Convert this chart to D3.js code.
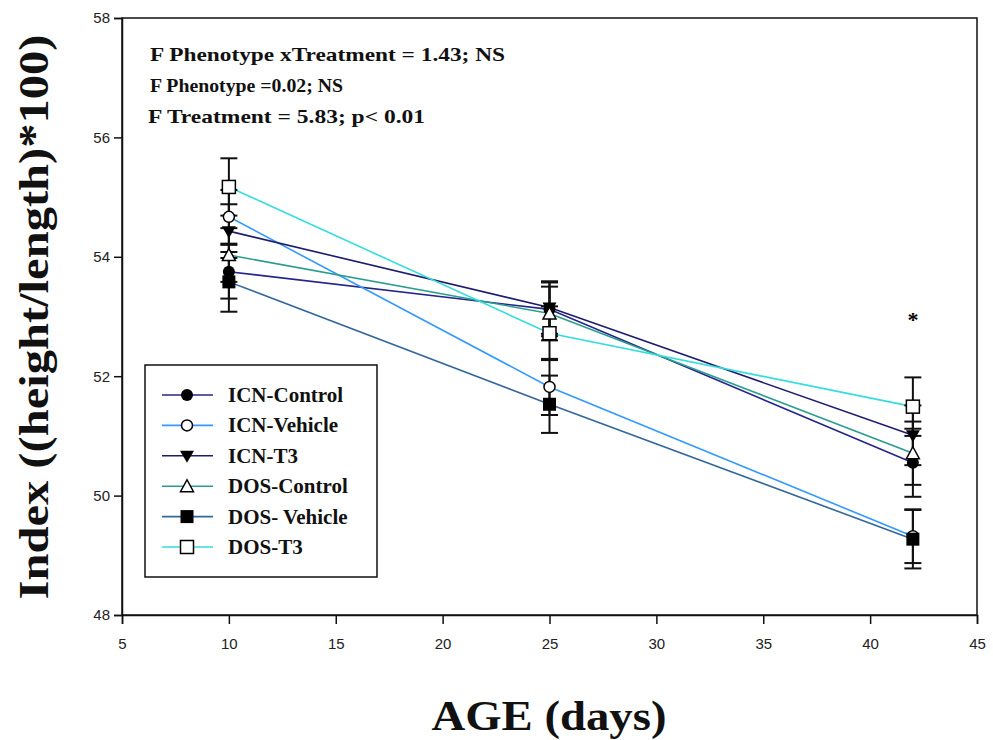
<!DOCTYPE html>
<html><head><meta charset="utf-8">
<script src="https://cdn.jsdelivr.net/npm/d3@7"></script>
<style>body{margin:0;background:#fff}svg{display:block}</style>
</head><body><svg id="c" width="993" height="740"></svg>
<script>
const ages = [10, 25, 42];
const seriesNames = ["ICN-Control","ICN-Vehicle","ICN-T3","DOS-Control","DOS- Vehicle","DOS-T3"];
const icnControl = [53.75, 53.12, 50.55];
const icnVehicle = [54.67, 51.82, 49.32];
const icnT3 = [54.43, 53.15, 51.01];
const dosControl = [54.03, 53.05, 50.71];
const dosVehicle = [53.58, 51.53, 49.27];
const dosT3 = [55.17, 52.72, 51.49];
const icnControlSE = [0.45, 0.45, 0.57];
const icnVehicleSE = [0.45, 0.47, 0.45];
const icnT3SE = [0.45, 0.44, 0.5];
const dosControlSE = [0.45, 0.45, 0.53];
const dosVehicleSE = [0.5, 0.48, 0.49];
const dosT3SE = [0.48, 0.45, 0.49];
const xTicks = [5,10,15,20,25,30,35,40,45];
const yTicks = [48,50,52,54,56,58];
const statLines = ["F Phenotype xTreatment = 1.43; NS","F Phenotype =0.02; NS","F Treatment = 5.83; p< 0.01"];

const colors = ["#24248a","#3399ff","#1c1c6e","#2a9d8f","#33679c","#33dddd"];
const symbols = ["circleFill","circleOpen","triDown","triUpOpen","squareFill","squareOpen"];
const values = [icnControl, icnVehicle, icnT3, dosControl, dosVehicle, dosT3];
const ses = [icnControlSE, icnVehicleSE, icnT3SE, dosControlSE, dosVehicleSE, dosT3SE];
const series = seriesNames.map((n,i)=>({name:n,color:colors[i],sym:symbols[i],
  pts: ages.map((a,j)=>({x:a,y:values[i][j],se:ses[i][j]}))}));

const svg = d3.select("#c");
const L=122,R=977,T=18,B=615;
const x = d3.scaleLinear().domain([5,45]).range([L,R]);
const y = d3.scaleLinear().domain([48,58]).range([B,T]);

svg.append("rect").attr("x",L).attr("y",T).attr("width",R-L).attr("height",B-T)
  .attr("fill","none").attr("stroke","#111").attr("stroke-width",1.5);

const gx = svg.append("g").attr("transform",`translate(0,${B})`)
  .call(d3.axisBottom(x).tickValues(xTicks).tickSize(9).tickPadding(14).tickFormat(d3.format("d")));
const gy = svg.append("g").attr("transform",`translate(${L},0)`)
  .call(d3.axisLeft(y).tickValues(yTicks).tickSize(8).tickPadding(4).tickFormat(d3.format("d")));
[gx,gy].forEach(g=>{
  g.select(".domain").attr("stroke","#111").attr("stroke-width",1.5);
  g.selectAll(".tick line").attr("stroke","#111").attr("stroke-width",1.5);
  g.selectAll("text").attr("font-family","Liberation Sans, Arial, sans-serif").attr("font-size",15).attr("fill","#222");
});

const line = d3.line().x(d=>x(d.x)).y(d=>y(d.y));
svg.append("g").selectAll("path").data(series).join("path")
  .attr("d",d=>line(d.pts)).attr("fill","none").attr("stroke",d=>d.color).attr("stroke-width",1.6);

const eb = svg.append("g").attr("stroke","#111").attr("stroke-width",2);
series.forEach(s=>s.pts.forEach(p=>{
  eb.append("line").attr("x1",x(p.x)).attr("x2",x(p.x)).attr("y1",y(p.y+p.se)).attr("y2",y(p.y-p.se));
  [p.y+p.se,p.y-p.se].forEach(v=>eb.append("line").attr("x1",x(p.x)-8.5).attr("x2",x(p.x)+8.5).attr("y1",y(v)).attr("y2",y(v)));
}));

function drawMarker(g,sym,cx,cy){
  const sw=1.5;
  if(sym==="circleFill") g.append("circle").attr("cx",cx).attr("cy",cy).attr("r",6).attr("fill","#000");
  if(sym==="circleOpen") g.append("circle").attr("cx",cx).attr("cy",cy).attr("r",5.5).attr("fill","#fff").attr("stroke","#000").attr("stroke-width",sw);
  if(sym==="triDown") g.append("path").attr("d",`M${cx-7},${cy-5}L${cx+7},${cy-5}L${cx},${cy+7}Z`).attr("fill","#000");
  if(sym==="triUpOpen") g.append("path").attr("d",`M${cx-6.5},${cy+5.5}L${cx+6.5},${cy+5.5}L${cx},${cy-6.5}Z`).attr("fill","#fff").attr("stroke","#000").attr("stroke-width",sw);
  if(sym==="squareFill") g.append("rect").attr("x",cx-6.5).attr("y",cy-6.5).attr("width",13).attr("height",13).attr("fill","#000");
  if(sym==="squareOpen") g.append("rect").attr("x",cx-6.5).attr("y",cy-6.5).attr("width",13).attr("height",13).attr("fill","#fff").attr("stroke","#000").attr("stroke-width",sw);
}
const mg = svg.append("g");
series.forEach(s=>s.pts.forEach(p=>drawMarker(mg,s.sym,x(p.x),y(p.y))));

svg.append("text").attr("x",x(42)).attr("y",y(51.98)-50).attr("text-anchor","middle")
  .attr("font-family","Liberation Serif, serif").attr("font-size",22).attr("font-weight","bold").text("*");

const statW = [355,193,277];
svg.append("g").selectAll("text").data(statLines).join("text")
  .attr("x",(d,i)=>i===2?148:150).attr("y",(d,i)=>61+i*31)
  .attr("font-family","Liberation Serif, serif").attr("font-weight","bold").attr("font-size",19)
  .attr("textLength",(d,i)=>statW[i]).attr("lengthAdjust","spacingAndGlyphs")
  .attr("fill","#111").text(d=>d);

const lg = svg.append("g");
lg.append("rect").attr("x",145).attr("y",365).attr("width",232).attr("height",212)
  .attr("fill","#fff").attr("stroke","#111").attr("stroke-width",1.5);
series.forEach((s,i)=>{
  const cy = 395 + i*30.4;
  lg.append("line").attr("x1",162).attr("x2",213).attr("y1",cy).attr("y2",cy).attr("stroke",s.color).attr("stroke-width",1.6);
  drawMarker(lg,s.sym,187,cy);
  lg.append("text").attr("x",228).attr("y",cy+7).attr("font-family","Liberation Serif, serif")
    .attr("font-weight","bold").attr("font-size",21).attr("fill","#111").text(s.name);
});

svg.append("text").attr("x",549).attr("y",730).attr("text-anchor","middle")
  .attr("font-family","Liberation Serif, serif").attr("font-weight","bold").attr("font-size",42)
  .attr("textLength",235).attr("lengthAdjust","spacingAndGlyphs")
  .attr("fill","#111").text("AGE (days)");
svg.append("text").attr("transform",`translate(48,317) rotate(-90)`).attr("text-anchor","middle")
  .attr("font-family","Liberation Serif, serif").attr("font-weight","bold").attr("font-size",42)
  .attr("textLength",565).attr("lengthAdjust","spacingAndGlyphs")
  .attr("fill","#111").text("Index ((height/length)*100)");
</script></body></html>
